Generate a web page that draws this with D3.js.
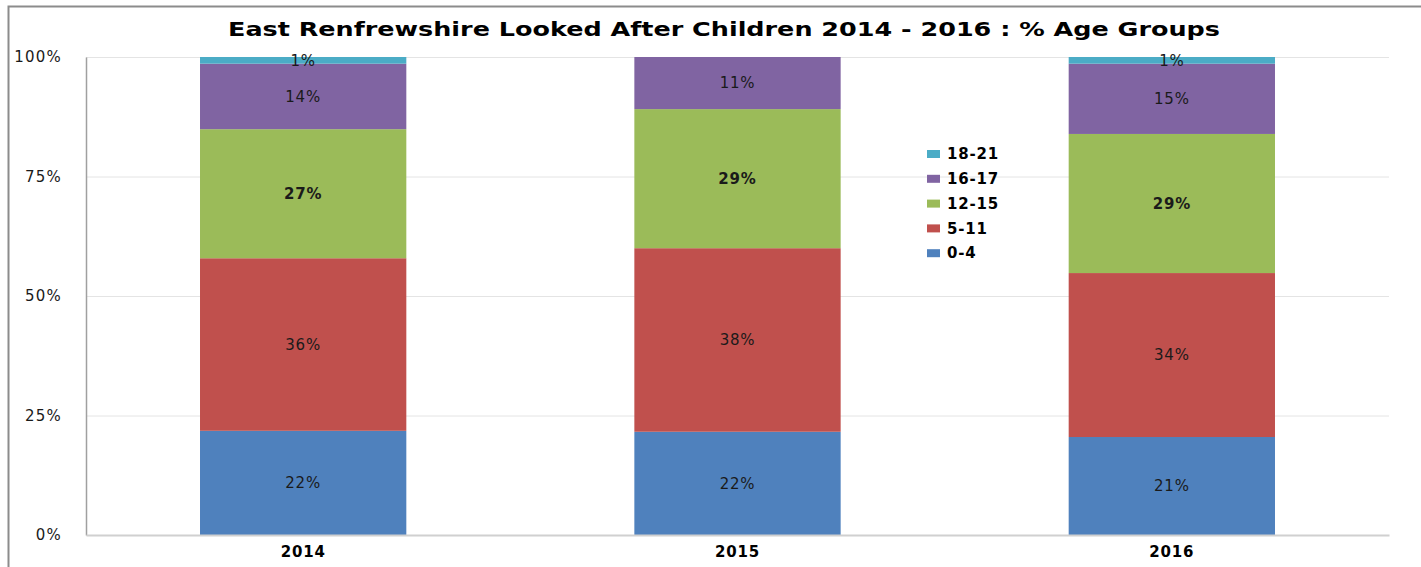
<!DOCTYPE html>
<html>
<head>
<meta charset="utf-8">
<script src="https://cdn.jsdelivr.net/npm/d3@7"></script>
<style>
  html, body { margin: 0; padding: 0; background: #fff; }
  svg { display: block; }
</style>
</head>
<body>
<div id="chart"></div>
<script>
// data (share of children, %)
const years = ["2014", "2015", "2016"];
const groups = ["0-4", "5-11", "12-15", "16-17", "18-21"];
const age0to4 = [21.8, 21.6, 20.5];
const age5to11 = [36.1, 38.4, 34.3];
const age12to15 = [27.0, 29.1, 29.1];
const age16to17 = [13.7, 10.9, 14.7];
const age18to21 = [1.4, 0, 1.4];
const yTicks = [0, 25, 50, 75, 100];
const colors = ["#4f81bd", "#c0504d", "#9bbb59", "#8064a2", "#4bacc6"];

const W = 1421, H = 567;
const margin = { left: 86, right: 32, top: 57, bottom: 32 };
const font = "'DejaVu Sans', Verdana, sans-serif";

const svg = d3.select("#chart").append("svg").attr("width", W).attr("height", H);

// outer chart frame (cropped at right and bottom)
svg.append("path")
  .attr("d", `M8.5,${H} L8.5,6.5 L${W},6.5`)
  .attr("fill", "none").attr("stroke", "#8c8c8c").attr("stroke-width", 2);

svg.append("text")
  .attr("x", 724).attr("y", 36)
  .attr("text-anchor", "middle")
  .attr("font-family", font).attr("font-weight", "bold").attr("font-size", 20)
  .attr("textLength", 992).attr("lengthAdjust", "spacingAndGlyphs")
  .attr("fill", "#000")
  .text("East Renfrewshire Looked After Children 2014 - 2016 : % Age Groups");

const x = d3.scaleBand().domain(years)
  .range([margin.left, W - margin.right]).paddingInner(0.525).paddingOuter(0.2625);
const y = d3.scaleLinear().domain([0, 100]).range([H - margin.bottom, margin.top]);

// gridlines
svg.append("g").selectAll("line").data(yTicks.filter(d => d > 0)).join("line")
  .attr("x1", margin.left).attr("x2", W - margin.right)
  .attr("y1", d => y(d) + 0.5).attr("y2", d => y(d) + 0.5)
  .attr("stroke", "#e4e4e4").attr("stroke-width", 1);

// stack
const table = years.map((yr, i) => ({
  year: yr,
  "0-4": age0to4[i], "5-11": age5to11[i], "12-15": age12to15[i],
  "16-17": age16to17[i], "18-21": age18to21[i]
}));
const series = d3.stack().keys(groups)(table);

const layers = svg.append("g").selectAll("g").data(series).join("g")
  .attr("fill", (d, i) => colors[i]);
layers.selectAll("rect").data(d => d).join("rect")
  .attr("x", d => x(d.data.year))
  .attr("width", x.bandwidth())
  .attr("y", d => y(d[1]))
  .attr("height", d => y(d[0]) - y(d[1]));

// value labels
series.forEach((s, si) => {
  svg.append("g").selectAll("text").data(s.filter(d => d[1] - d[0] > 0)).join("text")
    .attr("x", d => x(d.data.year) + x.bandwidth() / 2)
    .attr("y", d => si === 4 ? y(d[1]) + 4 : y((d[0] + d[1]) / 2))
    .attr("dy", "0.35em")
    .attr("text-anchor", "middle")
    .attr("font-family", font).attr("font-size", 15)
    .attr("font-weight", si === 2 ? "bold" : "normal")
    .attr("letter-spacing", 0.8)
    .attr("fill", "#1a1a1a")
    .text(d => Math.round(d[1] - d[0]) + "%");
});

// axes
const yAxis = svg.append("g")
  .attr("transform", `translate(${margin.left},0)`)
  .call(d3.axisLeft(y).tickValues(yTicks).tickFormat(d => d + "%").tickSize(0).tickPadding(24));
yAxis.select(".domain").attr("stroke", "#a0a0a0").attr("stroke-width", 1.5);
yAxis.selectAll("text").attr("font-family", font).attr("font-size", 15)
  .attr("letter-spacing", 1.2).attr("fill", "#1a1a1a");

const xAxis = svg.append("g")
  .attr("transform", `translate(0,${H - margin.bottom})`)
  .call(d3.axisBottom(x).tickSize(0).tickPadding(11));
xAxis.select(".domain").attr("stroke", "#d0d0d0").attr("stroke-width", 2);
xAxis.selectAll("text").attr("font-family", font).attr("font-size", 15)
  .attr("font-weight", "bold").attr("letter-spacing", 0.8).attr("fill", "#000");

// legend (reversed order, top is 18-21)
const legendKeys = groups.slice().reverse();
const legend = svg.append("g").attr("transform", "translate(927,154)");
const item = legend.selectAll("g").data(legendKeys).join("g")
  .attr("transform", (d, i) => `translate(0,${i * 24.8})`);
item.append("rect")
  .attr("x", 0).attr("y", -4).attr("width", 13).attr("height", 8)
  .attr("fill", d => colors[groups.indexOf(d)]);
item.append("text")
  .attr("x", 20).attr("y", 0).attr("dy", "0.35em")
  .attr("font-family", font).attr("font-size", 15).attr("font-weight", "bold")
  .attr("letter-spacing", 0.8).attr("fill", "#000")
  .text(d => d);
</script>
</body>
</html>
